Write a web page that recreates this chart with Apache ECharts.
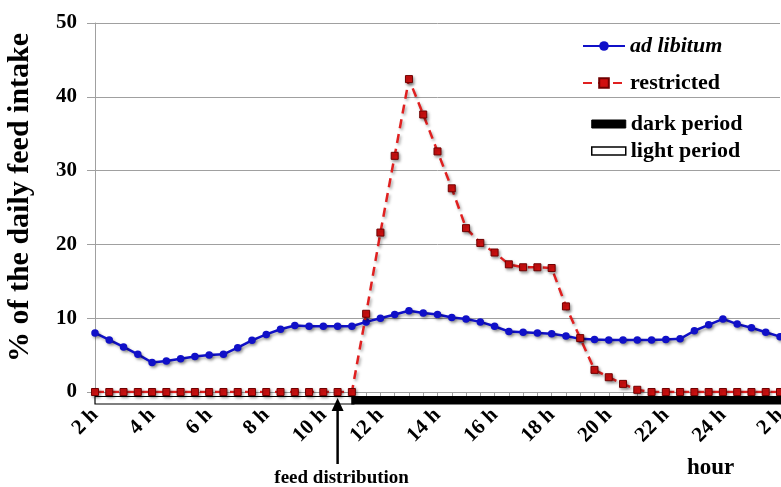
<!DOCTYPE html>
<html>
<head>
<meta charset="utf-8">
<script src="https://cdn.jsdelivr.net/npm/echarts@6/dist/echarts.min.js"></script>
<style>html,body{margin:0;padding:0;background:#fff}#c{width:781px;height:487px}</style>
</head>
<body>
<div id="c"></div>
<script>
// ---- data ----
const hours = [2,2.5,3,3.5,4,4.5,5,5.5,6,6.5,7,7.5,8,8.5,9,9.5,10,10.5,11,11.5,12,12.5,13,13.5,14,14.5,15,15.5,16,16.5,17,17.5,18,18.5,19,19.5,20,20.5,21,21.5,22,22.5,23,23.5,24,24.5,25,25.5,26];
const adLibitum = [8.0,7.05,6.1,5.1,4.0,4.2,4.5,4.8,5.0,5.1,6.0,7.0,7.8,8.5,9.0,8.9,8.9,8.9,8.9,9.5,10.0,10.5,11.0,10.7,10.5,10.1,9.9,9.5,8.9,8.2,8.1,8.0,7.9,7.6,7.2,7.1,7.05,7.05,7.05,7.05,7.1,7.2,8.3,9.1,9.9,9.2,8.7,8.1,7.5];
const restricted = [0,0,0,0,0,0,0,0,0,0,0,0,0,0,0,0,0,0,0,10.6,21.6,32.0,42.4,37.6,32.6,27.6,22.2,20.2,18.9,17.3,16.9,16.9,16.8,11.6,7.3,3.0,2.0,1.1,0.3,0,0,0,0,0,0,0,0,0,0];
const periodNames = ['light period','dark period'];
const periodStart = [2, 11];
const periodEnd = [11, 26];
const feedHour = 10.5;

const FONT = '"Liberation Serif", "Times New Roman", serif';
const chart = echarts.init(document.getElementById('c'));

const periodStyles = {
  'light period': {fill:'#ffffff', stroke:'#000000'},
  'dark period': {fill:'#000000', stroke:'#000000'}
};

function periodSeries(i){
  const name = periodNames[i];
  return {
    type:'custom', name:name, z:1,
    encode:{x:[0,1], y:2},
    data:[[hours.indexOf(periodStart[i]), hours.indexOf(periodEnd[i]), 0]],
    itemStyle:{color: periodStyles[name].fill, borderColor:'#000', borderWidth:1.5},
    renderItem:function(params, api){
      const s = api.coord([api.value(0), 0]);
      const e = api.coord([api.value(1), 0]);
      return {type:'rect', shape:{x:s[0], y:s[1]+4.5, width:e[0]-s[0]+2, height:7.5},
        style:{fill:periodStyles[name].fill, stroke:'#000', lineWidth:1.2}};
    }
  };
}

const shadow = {shadowColor:'rgba(0,0,0,0.35)', shadowBlur:3, shadowOffsetX:1.5, shadowOffsetY:2};

chart.setOption({
  animation:false,
  backgroundColor:'#ffffff',
  grid:{left:95, right:1, top:23, bottom:95, containLabel:false, outerBoundsMode:'none'},
  xAxis:{
    type:'category', data:hours.map(String), boundaryGap:false,
    axisLine:{lineStyle:{color:'#a0a0a0', width:1}},
    axisTick:{show:true, interval:0, length:4, lineStyle:{color:'#a0a0a0'}},
    axisLabel:{interval:3, rotate:45, margin:20, color:'#000', fontFamily:FONT, fontWeight:'bold', fontSize:21,
      showMaxLabel:true, hideOverlap:false,
      formatter:function(v){ let h = Number(v); if (h>24) h -= 24; return h + ' h'; }},
    splitLine:{show:false}
  },
  yAxis:{
    type:'value', min:0, max:50, interval:10,
    name:'% of the daily feed intake', nameLocation:'middle', nameGap:60,
    nameTextStyle:{color:'#000', fontFamily:FONT, fontWeight:'bold', fontSize:30, padding:[0,0,0,20]},
    axisLine:{show:true, lineStyle:{color:'#a0a0a0'}},
    axisTick:{show:true, length:8, lineStyle:{color:'#a0a0a0'}},
    axisLabel:{color:'#000', fontFamily:FONT, fontWeight:'bold', fontSize:21, margin:18},
    splitLine:{lineStyle:{color:'#a0a0a0', width:1}}
  },
  legend:[{
    orient:'vertical', left:577, top:30, itemGap:15, itemWidth:42, itemHeight:12,
    textStyle:{color:'#000', fontFamily:FONT, fontWeight:'bold', fontSize:22},
    data:[{name:'ad libitum', textStyle:{fontStyle:'italic'}}, {name:'restricted'}]
  },{
    orient:'vertical', left:586, top:108, itemGap:5, itemWidth:34, itemHeight:8, icon:'rect',
    textStyle:{color:'#000', fontFamily:FONT, fontWeight:'bold', fontSize:22},
    data:[{name:'dark period', itemStyle:{color:'#000', borderColor:'#000', borderWidth:1}},
          {name:'light period', itemStyle:{color:'#fff', borderColor:'#000', borderWidth:1.5}}]
  }],
  graphic:[{
    type:'text', left:687, top:457,
    style:{text:'hour', fill:'#000', font:'bold 23px ' + FONT}
  }],
  series:[
    periodSeries(0), periodSeries(1),
    {
      type:'custom', name:'feed', z:5, encode:{x:0, y:1},
      data:[[hours.indexOf(feedHour), 0]],
      renderItem:function(params, api){
        const p = api.coord([api.value(0), 0]);
        const x = p[0], y0 = p[1];
        return {type:'group', children:[
          {type:'line', shape:{x1:x, y1:y0+16, x2:x, y2:y0+72}, style:{stroke:'#000', lineWidth:2.5}},
          {type:'polygon', shape:{points:[[x, y0+6],[x-6, y0+19],[x+6, y0+19]]}, style:{fill:'#000'}},
          {type:'text', x:x+4, y:y0+86, style:{text:'feed distribution', fill:'#000', font:'bold 19px ' + FONT, align:'center', verticalAlign:'middle'}}
        ]};
      }
    },
    {
      name:'ad libitum', type:'line', data:adLibitum, z:3,
      symbol:'circle', symbolSize:7.5, showSymbol:true,
      lineStyle:Object.assign({color:'#1010c8', width:2.5}, shadow),
      itemStyle:Object.assign({color:'#1010c8'}, shadow)
    },
    {
      name:'restricted', type:'line', data:restricted, z:4,
      symbol:'rect', symbolSize:7, showSymbol:true,
      lineStyle:Object.assign({color:'#e02020', width:2.5, type:[9,6]}, shadow),
      itemStyle:Object.assign({color:'#d01010', borderColor:'#700000', borderWidth:1}, shadow)
    }
  ]
});
</script>
</body>
</html>
